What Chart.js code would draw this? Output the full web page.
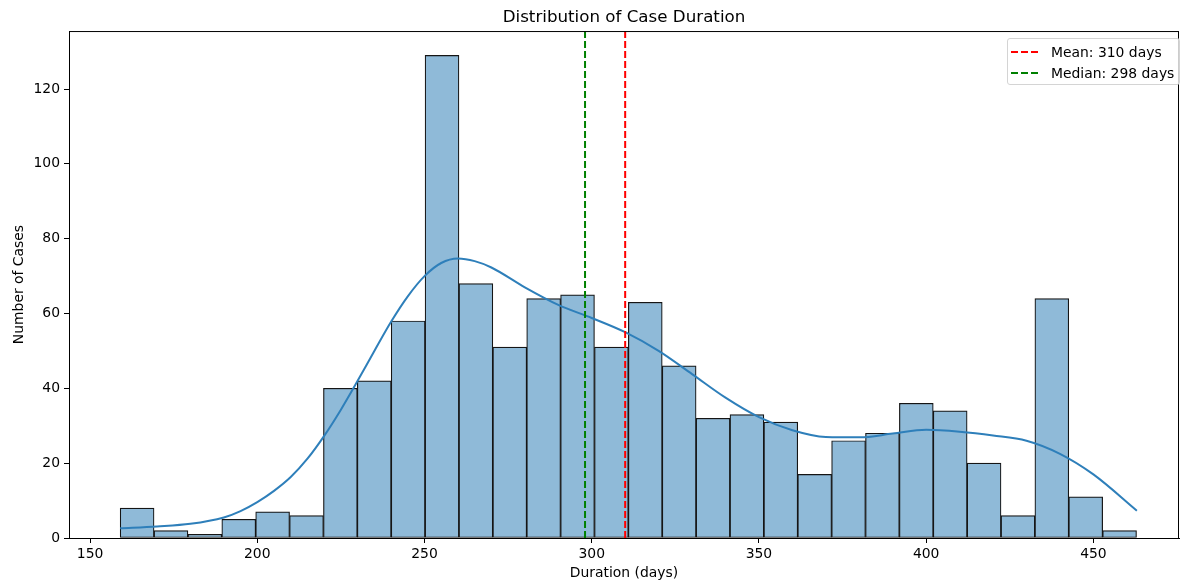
<!DOCTYPE html>
<html lang="en">
<head>
  <meta charset="UTF-8">
  <title>Distribution of Case Duration</title>
  <script src="https://cdn.jsdelivr.net/npm/chart.js"></script>
  <style>
    body {
      margin: 0;
      padding: 0;
      background: #fff;
      font-family: 'DejaVu Sans', sans-serif;
    }
    .wrap {
      position: relative;
      width: 1180px;
      height: 582px;
    }
    .legend {
      position: absolute;
      left: 1007px;
      top: 38px;
      width: 171px;
      height: 45px;
      border: 1px solid #d4d4d4;
      border-radius: 3px;
      background: rgba(255, 255, 255, 0.8);
      font-size: 13.9px;
      color: #000;
    }
    .legend .row {
      position: absolute;
      left: 3px;
      height: 17px;
      display: flex;
      align-items: center;
    }
    .legend svg {
      width: 29px;
      height: 4px;
      margin-right: 11px;
    }
  </style>
</head>
<body>
  <div class="wrap">
    <canvas id="histChart"></canvas>
    <div class="legend" id="legend"></div>
  </div>

  <script>
    // histogram bins (edges in days) and case counts
    const binEdges = [159.00, 169.13, 179.26, 189.39, 199.52, 209.65, 219.78, 229.91, 240.04, 250.17,
      260.30, 270.43, 280.56, 290.69, 300.82, 310.95, 321.08, 331.21, 341.34, 351.47,
      361.60, 371.73, 381.86, 391.99, 402.12, 412.25, 422.38, 432.51, 442.64, 452.77, 462.90];
    const counts = [8, 2, 1, 5, 7, 6, 40, 42, 58, 129,
      68, 51, 64, 65, 51, 63, 46, 32, 33, 31,
      17, 26, 28, 36, 34, 20, 6, 64, 11, 2];

    // density curve (scaled to counts)
    const kdeX = [159, 170, 180, 190, 195, 200, 205, 210, 215, 220, 225, 230, 235, 240, 245, 250, 255, 260,
      265, 270, 280, 290, 300, 310, 320, 330, 340, 350, 360, 370, 380, 390, 400, 410, 420, 430, 440, 450, 463];
    const kdeY = [2.6, 3.1, 3.8, 5.5, 7.2, 9.6, 12.6, 16.3, 21.2, 27.3, 34.3, 42, 50, 57.8, 64.6, 70, 73.5, 74.7,
      74, 72.3, 67, 62.3, 58.8, 55, 50, 43.8, 37.5, 32.3, 28.8, 27, 26.9, 27.9, 28.9, 28.4, 27.4, 26, 22.5, 17, 7.3];

    const meanDays = 310;
    const medianDays = 298;
    const xTicks = [150, 200, 250, 300, 350, 400, 450];
    const yTicks = [0, 20, 40, 60, 80, 100, 120];

    const X_MIN = 143.7, X_MAX = 475.6, Y_MAX = 135.5;

    Chart.defaults.font.family = "'DejaVu Sans', sans-serif";
    Chart.defaults.font.size = 13.9;
    Chart.defaults.color = '#000';

    const barData = counts.map((c, i) => ({ x: (binEdges[i] + binEdges[i + 1]) / 2, y: c }));
    const kdeData = kdeX.map((x, i) => ({ x: x, y: kdeY[i] }));

    // frame round the plot area, like matplotlib spines
    const framePlugin = {
      id: 'frame',
      afterDraw(chart) {
        const a = chart.chartArea;
        const ctx = chart.ctx;
        ctx.save();
        ctx.strokeStyle = '#000';
        ctx.lineWidth = 1;
        ctx.strokeRect(a.left + 0.5, a.top + 0.5, a.right - a.left - 1, a.bottom - a.top);
        ctx.restore();
      }
    };

    const chart = new Chart(document.getElementById('histChart'), {
      type: 'bar',
      data: {
        datasets: [
          {
            label: 'Mean: ' + meanDays + ' days',
            type: 'line',
            data: [{ x: meanDays, y: 0 }, { x: meanDays, y: Y_MAX }],
            borderColor: '#ff0000',
            borderWidth: 2,
            borderDash: [7, 3],
            pointRadius: 0,
            order: 0
          },
          {
            label: 'Median: ' + medianDays + ' days',
            type: 'line',
            data: [{ x: medianDays, y: 0 }, { x: medianDays, y: Y_MAX }],
            borderColor: '#008000',
            borderWidth: 2,
            borderDash: [7, 3],
            pointRadius: 0,
            order: 1
          },
          {
            label: 'KDE',
            type: 'line',
            data: kdeData,
            borderColor: '#2e7fba',
            borderWidth: 2,
            pointRadius: 0,
            cubicInterpolationMode: 'monotone',
            order: 2
          },
          {
            label: 'Count',
            data: barData,
            backgroundColor: 'rgb(143, 186, 216)',
            borderColor: '#151515',
            borderWidth: 1.2,
            borderSkipped: false,
            barPercentage: 1,
            categoryPercentage: 1,
            order: 3
          }
        ]
      },
      options: {
        responsive: true,
        maintainAspectRatio: false,
        animation: false,
        layout: { padding: { left: 0, right: 1, top: 0, bottom: 0 } },
        plugins: {
          legend: { display: false },
          tooltip: { enabled: false },
          title: {
            display: true,
            text: 'Distribution of Case Duration',
            fullSize: false,
            font: { size: 16.7, weight: 'normal' },
            padding: { top: 8, bottom: 3 }
          }
        },
        scales: {
          x: {
            type: 'linear',
            min: X_MIN,
            max: X_MAX,
            offset: false,
            afterBuildTicks: (scale) => { scale.ticks = xTicks.map(v => ({ value: v })); },
            ticks: { padding: 3 },
            grid: { offset: false, drawOnChartArea: false, drawTicks: true, tickLength: 5, tickColor: '#000' },
            border: { display: true, color: '#000' },
            title: { display: true, text: 'Duration (days)', padding: { top: 0, bottom: 0 } },
            afterFit: (scale) => { scale.height = 44; }
          },
          y: {
            min: 0,
            max: Y_MAX,
            afterBuildTicks: (scale) => { scale.ticks = yTicks.map(v => ({ value: v })); },
            ticks: { padding: 4 },
            grid: { drawOnChartArea: false, drawTicks: true, tickLength: 5, tickColor: '#000' },
            border: { display: true, color: '#000' },
            title: { display: true, text: 'Number of Cases', padding: { top: 11, bottom: 0 } },
            afterFit: (scale) => { scale.width = 69; }
          }
        }
      },
      plugins: [framePlugin]
    });

    // legend inside the axes, upper right
    const legendEl = document.getElementById('legend');
    [chart.data.datasets[0], chart.data.datasets[1]].forEach((ds, i) => {
      const row = document.createElement('div');
      row.className = 'row';
      row.style.top = (4 + i * 21) + 'px';
      row.innerHTML = '<svg viewBox="0 0 29 4"><line x1="0" y1="2" x2="29" y2="2" stroke="' + ds.borderColor +
        '" stroke-width="2" stroke-dasharray="7 3"/></svg><span>' + ds.label + '</span>';
      legendEl.appendChild(row);
    });
  </script>
</body>
</html>
